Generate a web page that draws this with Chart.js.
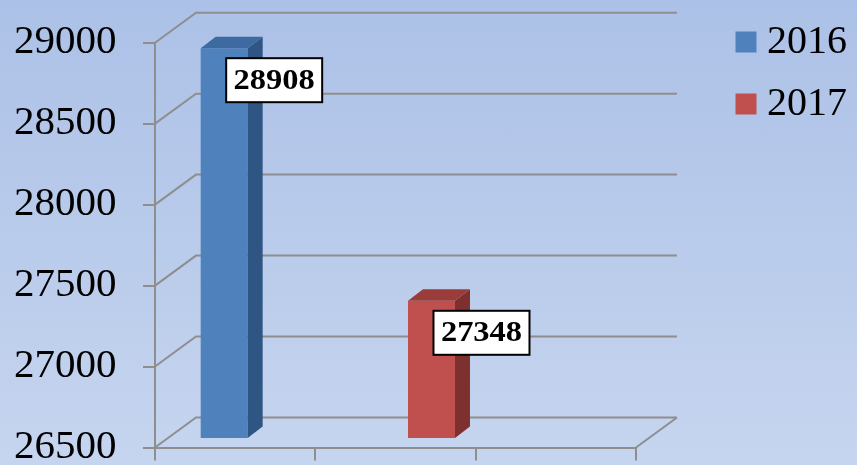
<!DOCTYPE html>
<html>
<head>
<meta charset="utf-8">
<title>2016 / 2017</title>
<script src="https://cdn.jsdelivr.net/npm/chart.js@4.4.0/dist/chart.umd.min.js"></script>
<style>
    html, body { margin: 0; padding: 0; }
    body {
        width: 857px;
        height: 465px;
        overflow: hidden;
        background: linear-gradient(to bottom, #acc1e7 0%, #c6d5ef 100%);
    }
    canvas { display: block; }
</style>
</head>
<body>
<canvas id="chart" width="857" height="465"></canvas>
<script>
(function () {
    'use strict';

    // Data
    const categories = ['2016', '2017', ''];
    const seriesNames = ['2016', '2017'];
    const values2016 = [28908, null, null];
    const values2017 = [null, 27348, null];
    const yTicks = [26500, 27000, 27500, 28000, 28500, 29000];

    // Colours (front, side, top faces)
    const FRONT = ['#4f81bd', '#c0504d'];
    const SIDE = ['#2f5583', '#7e302e'];
    const TOP = ['#3c6aa1', '#9a3c3a'];
    const GRID = '#8e8e8e';

    // 3D offsets
    const WALL_DX = 41, WALL_DY = -30;      // back wall
    const BAR_DX = 12.5, BAR_DY = -9.4;     // plane the bars stand in
    const DEPTH_DX = 15, DEPTH_DY = -11.5;  // bar thickness

    const SERIF = '"Liberation Serif", "Times New Roman", serif';

    /**
     * Draws the back wall / floor lines, shifts the bars back and
     * adds side + top faces and the boxed value labels.
     */
    const box3d = {
        id: 'box3d',
        beforeDatasetsDraw(chart) {
            const ctx = chart.ctx;
            const { left, right, bottom } = chart.chartArea;
            const yScale = chart.scales.y;

            ctx.save();
            ctx.strokeStyle = GRID;
            ctx.lineWidth = 2;
            ctx.beginPath();
            yScale.ticks.forEach(t => {
                const py = yScale.getPixelForValue(t.value);
                ctx.moveTo(left, py);
                ctx.lineTo(left + WALL_DX, py + WALL_DY);
                ctx.lineTo(right + WALL_DX, py + WALL_DY);
            });
            ctx.moveTo(right, bottom);
            ctx.lineTo(right + WALL_DX, bottom + WALL_DY);
            ctx.stroke();
            ctx.restore();

            ctx.save();
            ctx.translate(BAR_DX, BAR_DY);
        },
        afterDatasetsDraw(chart) {
            const ctx = chart.ctx;
            const floor = chart.chartArea.bottom;

            chart.data.datasets.forEach((ds, di) => {
                chart.getDatasetMeta(di).data.forEach((bar, i) => {
                    if (ds.data[i] == null) return;
                    const { x, y, base, width } = bar.getProps(['x', 'y', 'base', 'width'], true);
                    const b = Math.min(base, floor);
                    const l = x - width / 2, r = x + width / 2;

                    ctx.fillStyle = SIDE[di];
                    ctx.beginPath();
                    ctx.moveTo(r, y);
                    ctx.lineTo(r + DEPTH_DX, y + DEPTH_DY);
                    ctx.lineTo(r + DEPTH_DX, b + DEPTH_DY);
                    ctx.lineTo(r, b);
                    ctx.closePath();
                    ctx.fill();

                    ctx.fillStyle = TOP[di];
                    ctx.beginPath();
                    ctx.moveTo(l, y);
                    ctx.lineTo(l + DEPTH_DX, y + DEPTH_DY);
                    ctx.lineTo(r + DEPTH_DX, y + DEPTH_DY);
                    ctx.lineTo(r, y);
                    ctx.closePath();
                    ctx.fill();
                });
            });
            ctx.restore();

            // value labels
            ctx.save();
            ctx.font = 'bold 29px ' + SERIF;
            ctx.textAlign = 'center';
            ctx.textBaseline = 'middle';
            chart.data.datasets.forEach((ds, di) => {
                chart.getDatasetMeta(di).data.forEach((bar, i) => {
                    if (ds.data[i] == null) return;
                    const cx = bar.x + BAR_DX + 50;
                    const cy = bar.y + BAR_DY + 32;
                    ctx.fillStyle = '#ffffff';
                    ctx.fillRect(cx - 48, cy - 22, 96, 44);
                    ctx.lineWidth = 2;
                    ctx.strokeStyle = '#000000';
                    ctx.strokeRect(cx - 48, cy - 22, 96, 44);
                    ctx.save();
                    ctx.translate(cx, cy + 1);
                    ctx.scale(1.12, 1);
                    ctx.fillStyle = '#000000';
                    ctx.fillText(String(ds.data[i]), 0, 0);
                    ctx.restore();
                });
            });
            ctx.restore();
        }
    };

    function init() {
        const canvas = document.getElementById('chart');
        if (!canvas) return;

        new Chart(canvas.getContext('2d'), {
            type: 'bar',
            data: {
                labels: categories,
                datasets: [
                    {
                        label: seriesNames[0],
                        data: values2016,
                        backgroundColor: FRONT[0],
                        borderWidth: 0,
                        categoryPercentage: 0.586,
                        barPercentage: 1
                    },
                    {
                        label: seriesNames[1],
                        data: values2017,
                        backgroundColor: FRONT[1],
                        borderWidth: 0,
                        categoryPercentage: 0.586,
                        barPercentage: 1
                    }
                ]
            },
            options: {
                responsive: false,
                animation: false,
                layout: {
                    padding: { left: 14, right: 0, top: 0, bottom: 4.5 }
                },
                plugins: {
                    legend: {
                        position: 'right',
                        align: 'start',
                        labels: {
                            usePointStyle: true,
                            pointStyle: 'rect',
                            boxWidth: 2,
                            boxHeight: 21,
                            padding: 22,
                            color: '#000000',
                            font: { family: SERIF, size: 40 }
                        }
                    },
                    tooltip: { enabled: false }
                },
                scales: {
                    x: {
                        type: 'category',
                        offset: true,
                        grid: {
                            offset: true,
                            drawOnChartArea: false,
                            color: GRID,
                            lineWidth: 2,
                            tickLength: 13
                        },
                        border: { color: GRID, width: 2 },
                        ticks: { display: false }
                    },
                    y: {
                        min: yTicks[0],
                        max: yTicks[yTicks.length - 1],
                        grid: {
                            drawOnChartArea: false,
                            color: GRID,
                            lineWidth: 2,
                            tickLength: 12
                        },
                        border: { color: GRID, width: 2 },
                        ticks: {
                            stepSize: yTicks[1] - yTicks[0],
                            crossAlign: 'far',
                            padding: 0,
                            color: '#000000',
                            font: { family: SERIF, size: 41, lineHeight: 0.8 },
                            callback: v => String(v)
                        },
                        afterFit(scale) { scale.width = 141; }
                    },
                    // empty axes used only to reserve room for the 3D box
                    xSpace: {
                        axis: 'x',
                        type: 'linear',
                        position: 'top',
                        grid: { display: false },
                        ticks: { display: false },
                        border: { display: false },
                        afterFit(scale) { scale.height = 42.7; }
                    },
                    ySpace: {
                        axis: 'y',
                        type: 'linear',
                        position: 'right',
                        grid: { display: false },
                        ticks: { display: false },
                        border: { display: false },
                        afterFit(scale) { scale.width = 87; }
                    }
                }
            },
            plugins: [box3d]
        });
    }

    if (document.readyState === 'loading') {
        document.addEventListener('DOMContentLoaded', init);
    } else {
        init();
    }
})();
</script>
</body>
</html>
